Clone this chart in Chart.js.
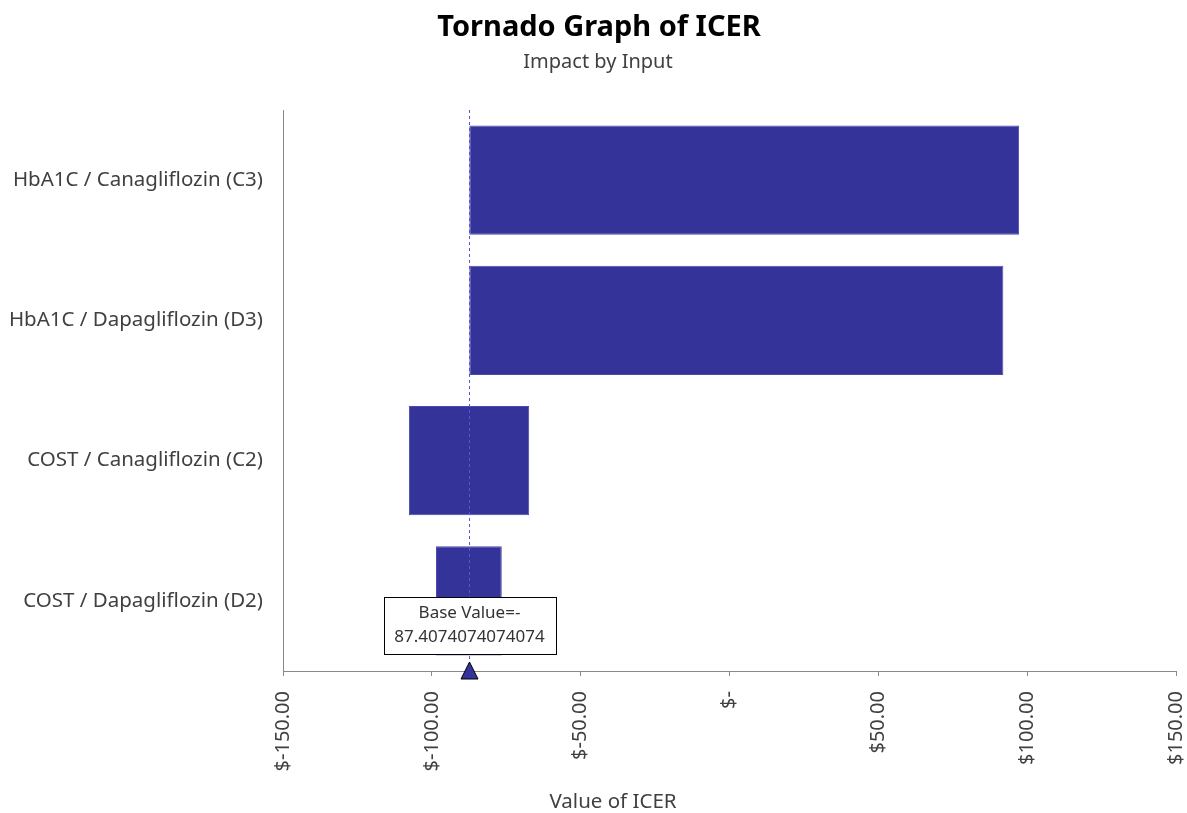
<!DOCTYPE html>
<html>
<head>
<meta charset="utf-8">
<title>Tornado Graph of ICER</title>
<script src="https://cdn.jsdelivr.net/npm/chart.js@4.4.1/dist/chart.umd.min.js"></script>
<style>
  html, body { margin: 0; padding: 0; background: #ffffff; }
  #wrap { width: 1187px; height: 813px; position: relative; }
</style>
</head>
<body>
<div id="wrap"><canvas id="chart" width="1187" height="813"></canvas></div>
<script>
// Inputs and their ICER ranges (low / high end of each bar)
const categories = [
  'HbA1C / Canagliflozin (C3)',
  'HbA1C / Dapagliflozin (D3)',
  'COST / Canagliflozin (C2)',
  'COST / Dapagliflozin (D2)'
];
const lowValues  = [-87.4074074074074, -87.4074074074074, -107.7, -98.6];
const highValues = [97.3, 92.0, -67.3, -76.5];
const baseValue = -87.4074074074074;
const baseLabel = ['Base Value=-', '87.4074074074074'];

// Value axis ticks
const tickValues = [-150, -100, -50, 0, 50, 100, 150];
const tickLabels = ['$-150.00', '$-100.00', '$-50.00', '$-', '$50.00', '$100.00', '$150.00'];

const chartTitle = 'Tornado Graph of ICER';
const chartSubtitle = 'Impact by Input';
const axisTitle = 'Value of ICER';

const FONT = "'Noto Sans', 'Open Sans', sans-serif";
const TEXT = '#404040';
const BAR = '#333399';

// Title, subtitle and value-axis title
const textPlugin = {
  id: 'texts',
  afterDraw(chart) {
    const ctx = chart.ctx;
    ctx.save();
    ctx.textAlign = 'center';
    ctx.textBaseline = 'middle';
    ctx.fillStyle = '#000000';
    ctx.font = "bold 29px " + FONT;
    ctx.fillText(chartTitle, 599, 28);
    ctx.fillStyle = TEXT;
    ctx.font = "20px " + FONT;
    ctx.fillText(chartSubtitle, 598, 62);
    ctx.font = "20.5px " + FONT;
    ctx.fillText(axisTitle, 613, 802);
    ctx.restore();
  }
};

// Dashed base-value line, marker and callout box
const basePlugin = {
  id: 'baseLine',
  afterDatasetsDraw(chart) {
    const ctx = chart.ctx;
    const area = chart.chartArea;
    const x = Math.round(chart.scales.x.getPixelForValue(baseValue)) + 0.5;
    ctx.save();
    ctx.strokeStyle = '#5555d5';
    ctx.lineWidth = 1;
    ctx.setLineDash([3, 3]);
    ctx.beginPath();
    ctx.moveTo(x, area.top);
    ctx.lineTo(x, area.bottom);
    ctx.stroke();
    ctx.setLineDash([]);

    // callout box
    const bw = 172, bh = 57;
    const bx = Math.round(x - bw / 2) + 0.5;
    const by = area.bottom - 74 + 0.5;
    ctx.fillStyle = '#ffffff';
    ctx.fillRect(bx, by, bw, bh);
    ctx.strokeStyle = '#000000';
    ctx.strokeRect(bx, by, bw, bh);
    ctx.fillStyle = '#333333';
    ctx.font = "17px " + FONT;
    ctx.textAlign = 'center';
    ctx.textBaseline = 'middle';
    ctx.fillText(baseLabel[0], x, by + 16);
    ctx.fillText(baseLabel[1], x, by + 40);

    // triangle marker on the axis
    const y = area.bottom;
    ctx.beginPath();
    ctx.moveTo(x, y - 9);
    ctx.lineTo(x + 8.5, y + 8);
    ctx.lineTo(x - 8.5, y + 8);
    ctx.closePath();
    ctx.fillStyle = BAR;
    ctx.fill();
    ctx.strokeStyle = '#000000';
    ctx.lineWidth = 1;
    ctx.stroke();
    ctx.restore();
  }
};

new Chart(document.getElementById('chart'), {
  type: 'bar',
  data: {
    labels: categories,
    datasets: [{
      data: categories.map((c, i) => [lowValues[i], highValues[i]]),
      backgroundColor: BAR,
      borderColor: '#4a4ab0',
      borderWidth: 1,
      borderSkipped: false,
      categoryPercentage: 1,
      barPercentage: 0.78
    }]
  },
  options: {
    indexAxis: 'y',
    responsive: false,
    animation: false,
    layout: { padding: { top: 110, right: 11, left: 0, bottom: 0 } },
    plugins: {
      legend: { display: false },
      title: { display: false },
      tooltip: { enabled: false }
    },
    scales: {
      x: {
        type: 'linear',
        min: -150,
        max: 150,
        afterBuildTicks(scale) {
          scale.ticks = tickValues.map(v => ({ value: v }));
        },
        afterFit(scale) {
          scale.height = 142;
          scale.paddingLeft = 0;
          scale.paddingRight = 0;
        },
        ticks: {
          autoSkip: false,
          minRotation: 90,
          maxRotation: 90,
          padding: 15,
          color: TEXT,
          font: { family: FONT, size: 20 },
          callback(value) {
            const i = tickValues.indexOf(value);
            return i >= 0 ? tickLabels[i] : '';
          }
        },
        grid: {
          drawOnChartArea: false,
          drawTicks: true,
          tickLength: 5,
          color: '#898989'
        },
        border: { display: true, color: '#898989', width: 1 }
      },
      y: {
        afterFit(scale) {
          scale.width = 283;
          scale.paddingTop = 0;
          scale.paddingBottom = 0;
        },
        ticks: {
          padding: 20,
          color: TEXT,
          font: { family: FONT, size: 20.5 }
        },
        grid: { drawOnChartArea: false, drawTicks: false },
        border: { display: true, color: '#898989', width: 1 }
      }
    }
  },
  plugins: [textPlugin, basePlugin]
});
</script>
</body>
</html>
